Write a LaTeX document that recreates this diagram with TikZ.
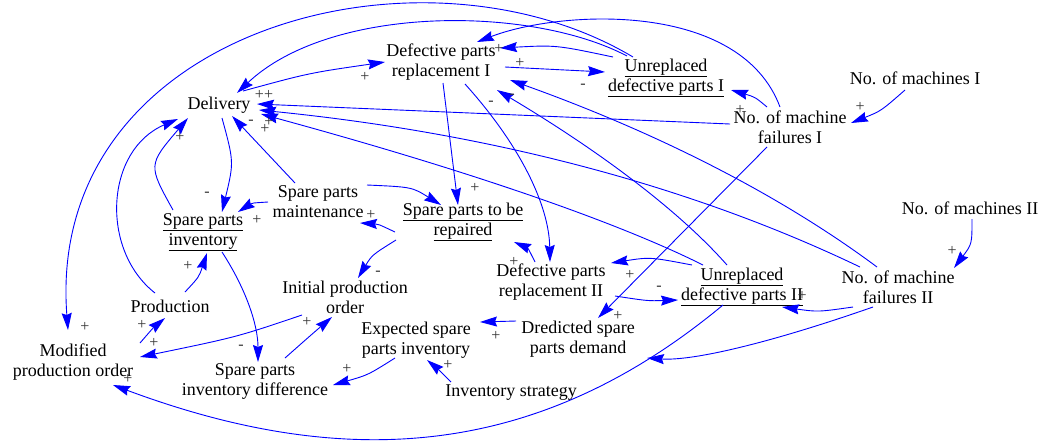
\documentclass[tikz,border=0pt]{standalone}
\usepackage{fontspec}
\setmainfont{Liberation Serif}
\usetikzlibrary{arrows.meta,calc}
\definecolor{linkblue}{RGB}{0,0,255}
\begin{document}
\begin{tikzpicture}[x=1pt,y=-1pt,
  var/.style={font=\fontsize{18pt}{20pt}\selectfont, align=center, inner sep=0pt, text=black},
  pol/.style={font=\fontsize{16pt}{16pt}\selectfont, inner sep=0pt, text=black!80},
  link/.style={draw=linkblue, line width=0.9pt, -{Stealth[length=17pt,width=10pt,inset=2pt]}}]
\useasboundingbox (0,0) rectangle (1048,445);

% variables
\node[var] (del)  at (219,105) {Delivery};
\node[var] (dr1)  at (441,62)  {Defective parts\\replacement I};
\node[var] (ud1)  at (666,78)  {\underline{Unreplaced}\\\underline{defective parts I}};
\node[var] (nm1)  at (915,78)  {No. of machines I};
\node[var] (mf1)  at (790,127) {No. of machine\\failures I};
\node[var] (nm2)  at (970,208) {No. of machines II};
\node[var] (mf2)  at (898,287) {No. of machine\\failures II};
\node[var] (ud2)  at (742,287) {\underline{Unreplaced}\\\underline{defective parts II}};
\node[var] (dr2)  at (551,282) {Defective parts\\replacement II};
\node[var] (pd)   at (578,339) {Dredicted spare\\parts demand};
\node[var] (sr)   at (463,222) {\underline{Spare parts to be}\\\underline{repaired}};
\node[var] (sm)   at (318,202) {Spare parts\\maintenance};
\node[var] (si)   at (203,232) {\underline{Spare parts}\\\underline{inventory}};
\node[var] (prod) at (170,306) {Production};
\node[var] (ipo)  at (345,297) {Initial production\\order};
\node[var] (esi)  at (416,340) {Expected spare\\parts inventory};
\node[var] (mpo)  at (73,362)  {Modified\\production order};
\node[var] (sid)  at (255,381) {Spare parts\\inventory difference};
\node[var] (invs) at (511,393) {Inventory strategy};

% causal links
\draw[link] ($(del)+(24,-14)$) .. controls (309,73) .. ($(dr1)+(-56,0)$);
\draw[link] ($(ud1)+(-39,-22)$) .. controls (530,5) and (330,5) .. ($(del)+(18,-12)$);
\draw[link] ($(ud1)+(-33,-21)$) .. controls (420,-70) and (45,30) .. ($(mpo)+(-5,-32)$);
\draw[link] ($(ud1)+(-53,-21)$) .. controls (556,45) .. ($(dr1)+(59,-14)$);
\draw[link] ($(mf1)+(-10,-20)$) .. controls (740,0) and (560,10) .. ($(dr1)+(36,-20)$);
\draw[link] ($(dr1)+(64,5)$) -- ($(ud1)+(-61,-6)$);
\draw[link] ($(mf2)+(-21,-20)$) .. controls (783,197) and (661,134) .. ($(dr1)+(69,18)$);
\draw[link] ($(ud2)+(-15,-22)$) .. controls (682,214) and (606,155) .. ($(dr1)+(56,28)$);
\draw[link] ($(mf1)+(-60,-3)$) -- ($(del)+(38,-1)$);
\draw[link] ($(mf2)+(-38,-20)$) .. controls (689,185) and (489,133) .. ($(del)+(40,5)$);
\draw[link] ($(ud2)+(-39,-22)$) .. controls (617,222) and (470,171) .. ($(del)+(42,9)$);
\draw[link] ($(del)+(3,13)$) .. controls (234,162) .. ($(si)+(19,-20)$);
\draw[link] ($(si)+(-30,-22)$) .. controls (148,165) .. ($(del)+(-31,13)$);
\draw[link] ($(prod)+(-15,-13)$) .. controls (100,250) and (105,150) .. ($(del)+(-41,14)$);
\draw[link] ($(sm)+(-23,-19)$) -- ($(del)+(13,11)$);
\draw[link] ($(sm)+(-50,0)$) .. controls (252,203) .. ($(si)+(35,-20)$);
\draw[link] ($(sm)+(49,-17)$) .. controls (412,187) .. ($(sr)+(-22,-17)$);
\draw[link] ($(dr1)+(2,21)$) -- ($(sr)+(-5,-17)$);
\draw[link] ($(dr1)+(24,22)$) .. controls (520,145) and (549,205) .. ($(dr2)+(-1,-20)$);
\draw[link] ($(sr)+(-68,10)$) .. controls (378,224) .. ($(sm)+(42,21)$);
\draw[link] ($(sr)+(-67,18)$) .. controls (372,255) .. ($(ipo)+(13,-19)$);
\draw[link] ($(dr2)+(-16,-20)$) .. controls (528,248) .. ($(sr)+(51,20)$);
\draw[link] ($(ud2)+(-50,-22)$) .. controls (650,257) .. ($(dr2)+(60,-19)$);
\draw[link] ($(dr2)+(64,14)$) .. controls (648,301) .. ($(ud2)+(-64,13)$);
\draw[link] ($(mf2)+(-45,20)$) .. controls (818,312) .. ($(ud2)+(40,20)$);
\draw[link] ($(nm2)+(2,11)$) .. controls (972,244) .. ($(mf2)+(56,-19)$);
\draw[link] ($(nm1)+(-10,12)$) .. controls (881,111) .. ($(mf1)+(61,-4)$);
\draw[link] ($(mf1)+(-23,-20)$) .. controls (755,97) .. ($(ud1)+(65,12)$);
\draw[link] ($(mf1)+(-23,20)$) -- ($(pd)+(20,-21)$);
\draw[link] ($(mf2)+(-25,20)$) .. controls (767,344) and (692,361) .. ($(pd)+(69,19)$);
\draw[link] ($(ud2)+(-19,18)$) .. controls (546,452) and (357,476) .. ($(mpo)+(40,23)$);
\draw[link] ($(pd)+(-62,-18)$) -- ($(esi)+(64,-18)$);
\draw[link] ($(invs)+(-60,-11)$) .. controls (438,369) .. ($(esi)+(11,20)$);
\draw[link] ($(esi)+(-21,18)$) .. controls (368,375) .. ($(sid)+(78,4)$);
\draw[link] ($(sid)+(30,-23)$) .. controls (311,335) .. ($(ipo)+(-13,20)$);
\draw[link] ($(ipo)+(-43,18)$) .. controls (237,337) .. ($(mpo)+(67,-5)$);
\draw[link] ($(si)+(19,20)$) .. controls (246,289) and (258,325) .. ($(sid)+(3,-19)$);
\draw[link] ($(prod)+(15,-14)$) .. controls (199,277) .. ($(si)+(4,21)$);
\draw[link] ($(mpo)+(67,-19)$) .. controls (153,328) .. ($(prod)+(-5,12)$);

% link polarities
\node[pol] (q1)  at (365,77)  {+};
\node[pol] (q2)  at (264,95)  {++};
\node[pol] (q3)  at (251,122) {-};
\node[pol] (q4)  at (269,122) {+};
\node[pol] (q5)  at (265,129) {+};
\node[pol] (q6)  at (180,137) {+};
\node[pol] (q7)  at (499,49)  {+};
\node[pol] (q8)  at (520,63)  {+};
\node[pol] (q9)  at (583,86)  {-};
\node[pol] (q10) at (491,103) {-};
\node[pol] (q11) at (512,96)  {-};
\node[pol] (q12) at (740,110) {+};
\node[pol] (q13) at (860,107) {+};
\node[pol] (q14) at (207,194) {-};
\node[pol] (q15) at (257,220) {+};
\node[pol] (q16) at (371,215) {+};
\node[pol] (q17) at (475,188) {+};
\node[pol] (q18) at (378,273) {-};
\node[pol] (q19) at (514,262) {+};
\node[pol] (q20) at (630,275) {+};
\node[pol] (q21) at (659,288) {-};
\node[pol] (q22) at (618,316) {+};
\node[pol] (q23) at (802,296) {+};
\node[pol] (q24) at (952,251) {+};
\node[pol] (q25) at (188,266) {+};
\node[pol] (q26) at (241,347) {-};
\node[pol] (q27) at (142,325) {+};
\node[pol] (q28) at (154,343) {+};
\node[pol] (q29) at (85,327)  {+};
\node[pol] (q30) at (128,379) {+};
\node[pol] (q31) at (307,322) {+};
\node[pol] (q32) at (347,369) {+};
\node[pol] (q33) at (496,336) {+};
\node[pol] (q34) at (448,365) {+};
\end{tikzpicture}
\end{document}
